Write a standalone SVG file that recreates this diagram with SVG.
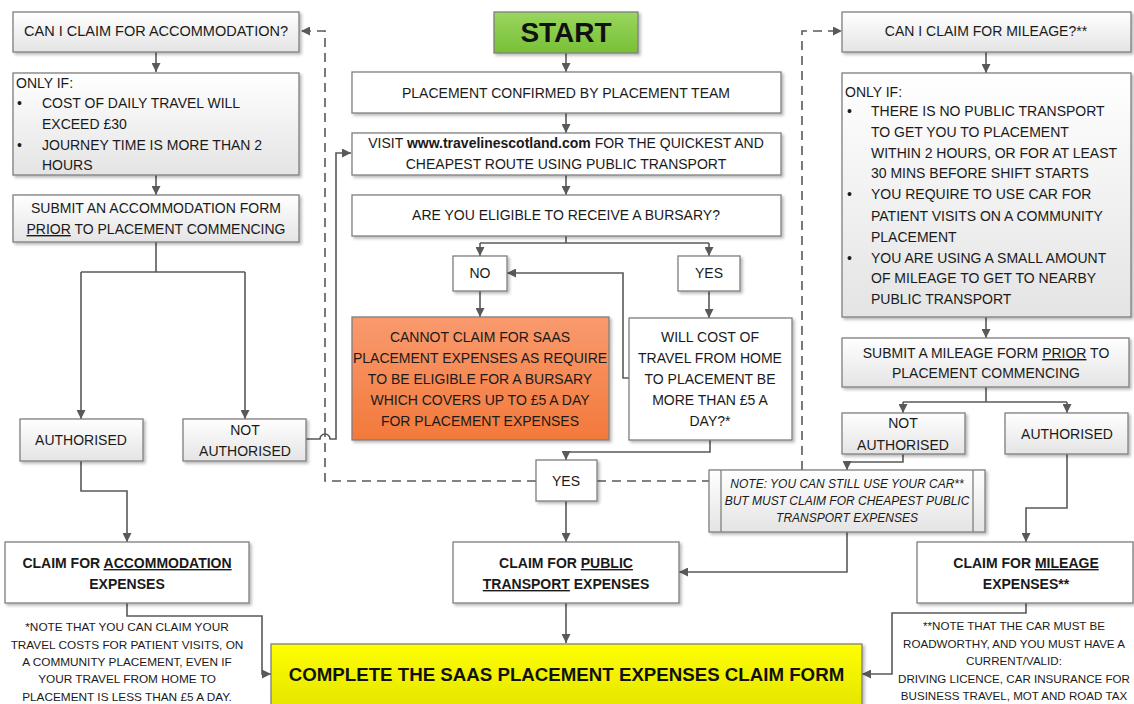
<svg xmlns="http://www.w3.org/2000/svg" width="1134" height="704" viewBox="0 0 1134 704">
<defs>
<linearGradient id="gGrey" x1="0" y1="0" x2="0" y2="1"><stop offset="0" stop-color="#ffffff"/><stop offset="1" stop-color="#e4e4e4"/></linearGradient>
<linearGradient id="gOrange" x1="0" y1="0" x2="0" y2="1"><stop offset="0" stop-color="#f99a6e"/><stop offset="1" stop-color="#f3793b"/></linearGradient>
<linearGradient id="gGreen" x1="0" y1="0" x2="0" y2="1"><stop offset="0" stop-color="#99d65e"/><stop offset="1" stop-color="#78c036"/></linearGradient>
<linearGradient id="gYellow" x1="0" y1="0" x2="0" y2="1"><stop offset="0" stop-color="#ffff00"/><stop offset="1" stop-color="#e2e200"/></linearGradient>
<filter id="sh" x="-5%" y="-10%" width="115%" height="130%"><feDropShadow dx="2" dy="2" stdDeviation="1.5" flood-color="#000" flood-opacity="0.28"/></filter>
<marker id="ah" viewBox="0 0 10 10" refX="10" refY="5" markerWidth="9" markerHeight="9" markerUnits="userSpaceOnUse" orient="auto"><path d="M0,0 L10,5 L0,10 z" fill="#595959"/></marker>
</defs>
<style>
.box{stroke:#7f7f7f;stroke-width:1.3;filter:url(#sh)}
.w{fill:#ffffff}
.g{fill:url(#gGrey)}
text{font-family:"Liberation Sans",Arial,sans-serif;font-size:14px;fill:#1a1a1a}
.c{text-anchor:middle}
.b{font-weight:bold}
.n{font-size:11.8px}
.nr{font-size:11.6px}
.it{font-style:italic;font-size:12px}
.u{text-decoration:underline}
.con{fill:none;stroke:#595959;stroke-width:1.6}
.arr{marker-end:url(#ah)}
.dash{fill:none;stroke:#595959;stroke-width:1.6;stroke-dasharray:9,6}
</style>
<rect width="1134" height="704" fill="#ffffff"/>

<g id="connectors">
<path class="con arr" d="M156,52 V72"/>
<path class="con arr" d="M156,175 V195"/>
<path class="con" d="M156,242 V272 M81,272 H245"/>
<path class="con arr" d="M81,272 V419"/>
<path class="con arr" d="M245,272 V419"/>
<path class="con arr" d="M81,461 V491 H127 V542"/>
<path class="con arr" d="M127,603 V616 H262 V674 H271"/>
<path class="con arr" d="M306,439 H320 A5,5 0 0 1 330,439 H336 V153 H351"/>
<path class="dash arr" d="M536,481 H325 V31 H301"/>
<path class="dash" d="M597,481 H709"/>
<path class="dash arr" d="M802,470 V31 H842"/>
<path class="con arr" d="M566,53 V72"/>
<path class="con arr" d="M566,113 V133"/>
<path class="con arr" d="M566,175 V195"/>
<path class="con" d="M566,236 V243 M480,243 H709"/>
<path class="con arr" d="M480,243 V256"/>
<path class="con arr" d="M709,243 V256"/>
<path class="con arr" d="M480,291 V317"/>
<path class="con arr" d="M709,291 V318"/>
<path class="con arr" d="M629,378 H623 V273 H507"/>
<path class="con arr" d="M710,440 V452 H566 V460"/>
<path class="con arr" d="M566,501 V542"/>
<path class="con arr" d="M566,603 V643"/>
<path class="con arr" d="M847,532 V572 H679"/>
<path class="con arr" d="M986,52 V73"/>
<path class="con arr" d="M986,317 V338"/>
<path class="con" d="M986,387 V402 M903,402 H1067"/>
<path class="con arr" d="M903,402 V413"/>
<path class="con arr" d="M1067,402 V413"/>
<path class="con arr" d="M903,454 V462 H847 V470"/>
<path class="con arr" d="M1067,454 V508 H1026 V542"/>
<path class="con arr" d="M1026,603 V613 H892 V674 H862"/>
</g>

<g id="n-accom-q"><rect class="box g" x="13" y="12" width="286" height="40"/><text class="c" x="156" y="36" style="font-size:14.5px">CAN I CLAIM FOR ACCOMMODATION?</text></g>
<g id="n-accom-if"><rect class="box g" x="13" y="73" width="286" height="102"/>
<text x="16" y="88">ONLY IF:</text>
<text x="17" y="108">•</text><text x="42" y="108">COST OF DAILY TRAVEL WILL</text>
<text x="42" y="129">EXCEED £30</text>
<text x="17" y="150">•</text><text x="42" y="150">JOURNEY TIME IS MORE THAN 2</text>
<text x="42" y="170">HOURS</text></g>
<g id="n-accom-form"><rect class="box g" x="13" y="195" width="286" height="47"/>
<text class="c" x="156" y="213">SUBMIT AN ACCOMMODATION FORM</text>
<text class="c" x="156" y="234"><tspan class="u">PRIOR</tspan> TO PLACEMENT COMMENCING</text></g>
<g id="n-accom-auth"><rect class="box g" x="20" y="419" width="123" height="42"/><text class="c" x="81" y="445">AUTHORISED</text></g>
<g id="n-accom-notauth"><rect class="box g" x="183" y="419" width="123" height="42"/><text class="c" x="245" y="435">NOT</text><text class="c" x="245" y="456">AUTHORISED</text></g>
<g id="n-accom-claim"><rect class="box w" x="5" y="542" width="244" height="61"/>
<text class="c b" x="127" y="568">CLAIM FOR <tspan class="u">ACCOMMODATION</tspan></text>
<text class="c b" x="127" y="589">EXPENSES</text></g>
<g id="n-note-left">
<text class="c n" x="127" y="631">*NOTE THAT YOU CAN CLAIM YOUR</text>
<text class="c n" x="127" y="649">TRAVEL COSTS FOR PATIENT VISITS, ON</text>
<text class="c n" x="127" y="666">A COMMUNITY PLACEMENT, EVEN IF</text>
<text class="c n" x="127" y="683">YOUR TRAVEL FROM HOME TO</text>
<text class="c n" x="127" y="701">PLACEMENT IS LESS THAN £5 A DAY.</text></g>

<g id="n-start"><rect class="box" fill="url(#gGreen)" x="494" y="12" width="144" height="41"/><text class="c b" x="566" y="42" style="font-size:28px;fill:#111">START</text></g>
<g id="n-confirmed"><rect class="box w" x="352" y="72" width="429" height="41"/><text class="c" x="566" y="98">PLACEMENT CONFIRMED BY PLACEMENT TEAM</text></g>
<g id="n-visit"><rect class="box w" x="352" y="133" width="429" height="42"/>
<text class="c" x="566" y="148">VISIT <tspan class="b">www.travelinescotland.com</tspan> FOR THE QUICKEST AND</text>
<text class="c" x="566" y="169">CHEAPEST ROUTE USING PUBLIC TRANSPORT</text></g>
<g id="n-eligible"><rect class="box w" x="352" y="195" width="429" height="41"/><text class="c" x="566" y="220">ARE YOU ELIGIBLE TO RECEIVE A BURSARY?</text></g>
<g id="n-no"><rect class="box w" x="453" y="256" width="54" height="35"/><text class="c" x="480" y="278">NO</text></g>
<g id="n-yes1"><rect class="box w" x="678" y="256" width="62" height="35"/><text class="c" x="709" y="278">YES</text></g>
<g id="n-cannot"><rect class="box" fill="url(#gOrange)" stroke="#8a4a2a" x="352" y="317" width="257" height="123"/>
<text class="c" x="480" y="342">CANNOT CLAIM FOR SAAS</text>
<text class="c" x="480" y="363">PLACEMENT EXPENSES AS REQUIRE</text>
<text class="c" x="480" y="384">TO BE ELIGIBLE FOR A BURSARY</text>
<text class="c" x="480" y="405">WHICH COVERS UP TO £5 A DAY</text>
<text class="c" x="480" y="426">FOR PLACEMENT EXPENSES</text></g>
<g id="n-willcost"><rect class="box w" x="629" y="318" width="163" height="122"/>
<text class="c" x="710" y="342">WILL COST OF</text>
<text class="c" x="710" y="363">TRAVEL FROM HOME</text>
<text class="c" x="710" y="384">TO PLACEMENT BE</text>
<text class="c" x="710" y="405">MORE THAN £5 A</text>
<text class="c" x="710" y="426">DAY?*</text></g>
<g id="n-yes2"><rect class="box w" x="536" y="460" width="61" height="41"/><text class="c" x="566" y="486">YES</text></g>
<g id="n-note-car"><rect class="box g" x="709" y="470" width="276" height="62"/>
<path d="M721,470 V532 M973,470 V532" stroke="#7f7f7f" stroke-width="1.3"/>
<text class="c it" x="847" y="488">NOTE: YOU CAN STILL USE YOUR CAR**</text>
<text class="c it" x="847" y="505">BUT MUST CLAIM FOR CHEAPEST PUBLIC</text>
<text class="c it" x="847" y="522">TRANSPORT EXPENSES</text></g>
<g id="n-claim-public"><rect class="box w" x="453" y="542" width="226" height="61"/>
<text class="c b" x="566" y="568">CLAIM FOR <tspan class="u">PUBLIC</tspan></text>
<text class="c b" x="566" y="589"><tspan class="u">TRANSPORT</tspan> EXPENSES</text></g>
<g id="n-complete"><rect class="box" fill="url(#gYellow)" stroke="#8a8a30" x="271" y="644" width="591" height="70"/>
<text class="c b" x="566.5" y="681" style="font-size:18.7px;fill:#111">COMPLETE THE SAAS PLACEMENT EXPENSES CLAIM FORM</text></g>

<g id="n-mileage-q"><rect class="box g" x="842" y="12" width="289" height="40"/><text class="c" x="986" y="36">CAN I CLAIM FOR MILEAGE?**</text></g>
<g id="n-mileage-if"><rect class="box g" x="842" y="73" width="289" height="244"/>
<text x="845" y="97">ONLY IF:</text>
<text x="847" y="116">•</text><text x="871" y="116">THERE IS NO PUBLIC TRANSPORT</text>
<text x="871" y="137">TO GET YOU TO PLACEMENT</text>
<text x="871" y="158">WITHIN 2 HOURS, OR FOR AT LEAST</text>
<text x="871" y="178">30 MINS BEFORE SHIFT STARTS</text>
<text x="847" y="199">•</text><text x="871" y="199">YOU REQUIRE TO USE CAR FOR</text>
<text x="871" y="221">PATIENT VISITS ON A COMMUNITY</text>
<text x="871" y="242">PLACEMENT</text>
<text x="847" y="263">•</text><text x="871" y="263">YOU ARE USING A SMALL AMOUNT</text>
<text x="871" y="283">OF MILEAGE TO GET TO NEARBY</text>
<text x="871" y="304">PUBLIC TRANSPORT</text></g>
<g id="n-mileage-form"><rect class="box g" x="842" y="338" width="287" height="49"/>
<text class="c" x="986" y="358">SUBMIT A MILEAGE FORM <tspan class="u">PRIOR</tspan> TO</text>
<text class="c" x="986" y="378">PLACEMENT COMMENCING</text></g>
<g id="n-mileage-notauth"><rect class="box g" x="842" y="413" width="123" height="41"/><text class="c" x="903" y="428">NOT</text><text class="c" x="903" y="450">AUTHORISED</text></g>
<g id="n-mileage-auth"><rect class="box g" x="1005" y="413" width="123" height="41"/><text class="c" x="1067" y="439">AUTHORISED</text></g>
<g id="n-mileage-claim"><rect class="box w" x="917" y="542" width="216" height="61"/>
<text class="c b" x="1026" y="568">CLAIM FOR <tspan class="u">MILEAGE</tspan></text>
<text class="c b" x="1026" y="589">EXPENSES**</text></g>
<g id="n-note-right">
<text class="c nr" x="1014" y="630">**NOTE THAT THE CAR MUST BE</text>
<text class="c nr" x="1014" y="648">ROADWORTHY, AND YOU MUST HAVE A</text>
<text class="c nr" x="1014" y="665">CURRENT/VALID:</text>
<text class="c nr" x="1014" y="683">DRIVING LICENCE, CAR INSURANCE FOR</text>
<text class="c nr" x="1014" y="700">BUSINESS TRAVEL, MOT AND ROAD TAX</text></g>
</svg>
